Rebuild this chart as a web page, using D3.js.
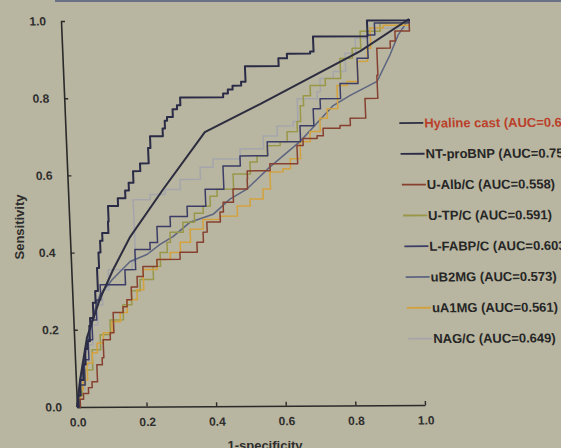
<!DOCTYPE html>
<html>
<head>
<meta charset="utf-8">
<script src="https://cdn.jsdelivr.net/npm/d3@7"></script>
<style>
html, body { margin: 0; padding: 0; background: #b8b5a0; }
#chart { width: 561px; height: 448px; overflow: hidden; }
</style>
</head>
<body>
<div id="chart"></div>
<script>
'use strict';

// ROC points, [1-specificity, sensitivity]
const hyalineCast = [[0,0],[0.012,0.07],[0.037,0.18],[0.079,0.28],[0.12,0.355],[0.173,0.44],[0.273,0.562],[0.40,0.71],[0.562,0.782],[0.855,0.917],[1,1]];
const ntProBNP = [[0,0],[0.005,0.03],[0.012,0.07],[0.022,0.11],[0.03,0.15],[0.037,0.17],[0.045,0.21],[0.048,0.23],[0.058,0.27],[0.066,0.30],[0.074,0.36],[0.080,0.40],[0.086,0.43],[0.093,0.45],[0.111,0.48],[0.113,0.52],[0.142,0.54],[0.164,0.56],[0.175,0.58],[0.189,0.61],[0.21,0.63],[0.235,0.67],[0.242,0.70],[0.279,0.72],[0.286,0.74],[0.293,0.75],[0.31,0.77],[0.323,0.78],[0.333,0.80],[0.457,0.81],[0.471,0.82],[0.485,0.83],[0.51,0.84],[0.523,0.88],[0.62,0.90],[0.645,0.912],[0.712,0.917],[0.722,0.956],[0.879,0.997],[1,1]];
const uAlbC = [[0,0],[0.01,0.02],[0.02,0.035],[0.035,0.05],[0.046,0.065],[0.062,0.109],[0.078,0.127],[0.083,0.174],[0.104,0.192],[0.115,0.244],[0.144,0.259],[0.156,0.277],[0.17,0.31],[0.188,0.337],[0.206,0.363],[0.247,0.381],[0.314,0.399],[0.364,0.425],[0.383,0.451],[0.395,0.477],[0.434,0.503],[0.444,0.528],[0.474,0.562],[0.516,0.588],[0.517,0.609],[0.583,0.627],[0.663,0.674],[0.681,0.692],[0.722,0.699],[0.74,0.718],[0.789,0.725],[0.819,0.744],[0.864,0.795],[0.901,0.855],[0.904,0.925],[0.943,0.943],[0.958,0.969],[1,1]];
const uTPC = [[0,0],[0.008,0.03],[0.017,0.057],[0.027,0.096],[0.05,0.148],[0.075,0.187],[0.105,0.225],[0.144,0.264],[0.17,0.30],[0.196,0.329],[0.235,0.363],[0.257,0.399],[0.278,0.425],[0.288,0.451],[0.326,0.477],[0.36,0.50],[0.386,0.518],[0.407,0.544],[0.428,0.562],[0.476,0.601],[0.526,0.632],[0.547,0.648],[0.577,0.674],[0.615,0.684],[0.636,0.71],[0.666,0.736],[0.677,0.777],[0.687,0.803],[0.708,0.829],[0.752,0.847],[0.797,0.899],[0.833,0.925],[0.858,0.969],[0.916,0.99],[1,1]];
const lFabpC = [[0,0],[0.005,0.03],[0.011,0.057],[0.026,0.122],[0.04,0.174],[0.053,0.225],[0.067,0.277],[0.081,0.316],[0.154,0.355],[0.185,0.407],[0.229,0.425],[0.251,0.466],[0.29,0.492],[0.34,0.518],[0.394,0.562],[0.448,0.622],[0.498,0.648],[0.578,0.684],[0.674,0.725],[0.714,0.769],[0.735,0.795],[0.794,0.834],[0.846,0.899],[0.878,0.959],[0.90,0.99],[1,1]];
const uB2MG = [[0,0],[0.007,0.031],[0.018,0.083],[0.033,0.148],[0.047,0.199],[0.063,0.251],[0.079,0.29],[0.116,0.329],[0.17,0.376],[0.219,0.394],[0.258,0.42],[0.296,0.44],[0.347,0.477],[0.414,0.497],[0.464,0.536],[0.514,0.562],[0.583,0.619],[0.672,0.684],[0.772,0.777],[0.822,0.803],[0.901,0.839],[0.941,0.907],[0.967,0.959],[1,1]];
const uA1MG = [[0,0],[0.005,0.02],[0.011,0.044],[0.02,0.07],[0.034,0.114],[0.05,0.14],[0.065,0.165],[0.084,0.192],[0.11,0.22],[0.135,0.244],[0.156,0.277],[0.186,0.303],[0.206,0.355],[0.247,0.381],[0.286,0.399],[0.316,0.425],[0.346,0.459],[0.384,0.484],[0.434,0.492],[0.484,0.518],[0.522,0.536],[0.56,0.562],[0.582,0.606],[0.62,0.614],[0.642,0.64],[0.672,0.684],[0.702,0.71],[0.732,0.744],[0.754,0.769],[0.785,0.829],[0.815,0.839],[0.846,0.891],[0.876,0.925],[0.887,0.977],[0.925,0.984],[1,1]];
const nagC = [[0,0],[0.004,0.02],[0.011,0.044],[0.025,0.109],[0.039,0.161],[0.053,0.212],[0.07,0.264],[0.086,0.303],[0.106,0.355],[0.175,0.376],[0.186,0.536],[0.235,0.549],[0.279,0.562],[0.323,0.588],[0.382,0.619],[0.42,0.64],[0.499,0.666],[0.567,0.699],[0.608,0.725],[0.655,0.736],[0.669,0.795],[0.727,0.813],[0.737,0.847],[0.776,0.865],[0.812,0.912],[0.843,0.951],[0.887,0.977],[1,1]];

const legendLabels = ['Hyaline cast (AUC=0.682)', 'NT-proBNP (AUC=0.752)', 'U-Alb/C (AUC=0.558)', 'U-TP/C (AUC=0.591)',
                      'L-FABP/C (AUC=0.603)', 'uB2MG (AUC=0.573)', 'uA1MG (AUC=0.561)', 'NAG/C (AUC=0.649)'];
const seriesData = [hyalineCast, ntProBNP, uAlbC, uTPC, lFabpC, uB2MG, uA1MG, nagC];
const xTicks = [0, 0.2, 0.4, 0.6, 0.8, 1.0];
const yTicks = [0, 0.2, 0.4, 0.6, 0.8, 1.0];

// styles
const colors = ['#2d2d40', '#2a2b46', '#86402f', '#989848', '#3c3d66', '#5d6580', '#d3a23c', '#a5a6ac'];
const stepped = [false, true, true, true, true, false, true, true];
const drawOrder = [7, 5, 3, 6, 2, 4, 0, 1];

const width = 561, height = 448;
const font = '"Liberation Sans", Arial, Helvetica, sans-serif';

const svg = d3.select('#chart')
    .append('svg')
    .attr('width', width)
    .attr('height', height)
    .style('font-family', font);

svg.append('rect').attr('width', width).attr('height', height).attr('fill', '#b8b5a0');
svg.append('rect').attr('x', 55).attr('width', width - 55).attr('height', 2).attr('fill', '#6a7186');

// the slide was photographed at a slight angle, so the plot is a parallelogram
const plotW = 348, plotH = 386;
const g = svg.append('g')
    .attr('transform', 'matrix(1,-0.00575,0.0415,1,77,407)');

const x = d3.scaleLinear().domain([0, 1]).range([0, plotW]);
const y = d3.scaleLinear().domain([0, 1]).range([0, -plotH]);
const fmt = d3.format('.1f');

const xAxis = g.append('g')
    .call(d3.axisBottom(x).tickValues(xTicks).tickFormat(fmt).tickSize(-4).tickSizeOuter(0).tickPadding(11));
const yAxis = g.append('g')
    .call(d3.axisLeft(y).tickValues(yTicks).tickFormat(fmt).tickSize(-4).tickSizeOuter(0).tickPadding(15));

[xAxis, yAxis].forEach(a => {
    a.select('.domain').attr('stroke', '#2a2a2a').attr('stroke-width', 1.6);
    a.selectAll('.tick line').attr('stroke', '#2a2a2a').attr('stroke-width', 1.4);
    a.selectAll('.tick text')
        .attr('fill', '#2e2e2e')
        .style('font-family', font)
        .style('font-size', '12px')
        .style('font-weight', 'bold');
});

const curves = g.append('g').attr('fill', 'none');
drawOrder.forEach(i => {
    const line = d3.line()
        .x(d => x(d[0]))
        .y(d => y(d[1]))
        .curve(stepped[i] ? d3.curveStepAfter : d3.curveLinear);
    curves.append('path')
        .datum(seriesData[i])
        .attr('d', line)
        .attr('stroke', colors[i])
        .attr('stroke-width', i < 2 ? 2 : 1.5)
        .attr('stroke-linejoin', 'round');
});

// legend (runs off the right edge of the photo, as in the slide)
const legend = g.append('g').attr('transform', 'translate(334,-282)');
const items = legend.selectAll('g')
    .data(legendLabels)
    .join('g')
    .attr('transform', (d, i) => `translate(0,${i * 30.8})`);
items.append('line')
    .attr('x1', 0).attr('x2', 24)
    .attr('stroke', (d, i) => colors[i])
    .attr('stroke-width', 1.8);
items.append('text')
    .attr('x', 25)
    .attr('dy', '0.35em')
    .attr('fill', (d, i) => i === 0 ? '#bb3f2a' : '#262626')
    .style('font-size', '13px')
    .style('font-weight', 'bold')
    .text(d => d);

// axis titles
svg.append('text')
    .attr('transform', 'translate(24,227) rotate(-90)')
    .attr('text-anchor', 'middle')
    .attr('fill', '#2e2e2e')
    .style('font-size', '13px')
    .style('font-weight', 'bold')
    .text('Sensitivity');

svg.append('text')
    .attr('x', 265)
    .attr('y', 450)
    .attr('text-anchor', 'middle')
    .attr('fill', '#2e2e2e')
    .style('font-size', '13px')
    .style('font-weight', 'bold')
    .text('1-specificity');
</script>
</body>
</html>
